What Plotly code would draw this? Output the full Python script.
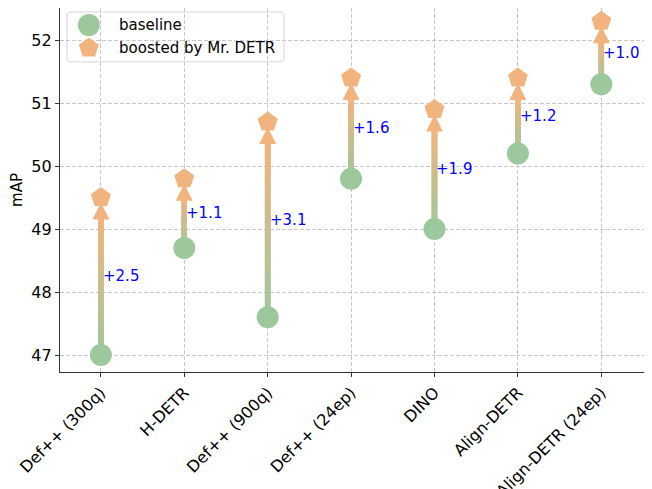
import numpy as np
import plotly.graph_objects as go

categories = ["Def++ (300q)", "H-DETR", "Def++ (900q)", "Def++ (24ep)", "DINO", "Align-DETR", "Align-DETR (24ep)"]
baseline = [47.0, 48.7, 47.6, 49.8, 49.0, 50.2, 51.3]
boosted = [49.5, 49.8, 50.7, 51.4, 50.9, 51.4, 52.3]
gains = ["+2.5", "+1.1", "+3.1", "+1.6", "+1.9", "+1.2", "+1.0"]

GREEN = (157, 200, 157)
ORANGE = (242, 180, 126)
FONT = "DejaVu Sans"
FS = 15
TFS = 16

def mix(t, alpha=0.68):
    c = [int(round(GREEN[k] + (ORANGE[k] - GREEN[k]) * t)) for k in range(3)]
    return f"rgba({c[0]},{c[1]},{c[2]},{alpha})"

fig = go.Figure()
xs = list(range(len(categories)))

# gradient shafts
for i, (b, a) in enumerate(zip(baseline, boosted)):
    top = a - 0.3
    n = max(int((top - b) / 0.015), 2)
    ys = np.linspace(b, top, n)
    cols = [mix(j / (n - 1)) for j in range(n)]
    fig.add_trace(go.Scatter(x=[i] * n, y=ys, mode="markers",
                             marker=dict(symbol="square", size=5.5, color=cols, line=dict(width=0)),
                             showlegend=False, hoverinfo="skip"))
    fig.add_annotation(x=i, y=(a + b) / 2, text=gains[i], showarrow=False, xanchor="left",
                       xshift=0, font=dict(color="blue", size=FS, family=FONT))

# arrow heads (tip hidden under the pentagons)
fig.add_trace(go.Scatter(x=xs, y=[a - 0.08 for a in boosted], mode="markers", showlegend=False,
                         hoverinfo="skip",
                         marker=dict(symbol="arrow-up", size=17, color=f"rgb{ORANGE}", line=dict(width=0))))

fig.add_trace(go.Scatter(x=xs, y=baseline, mode="markers", name="baseline", showlegend=False,
                         marker=dict(symbol="circle", size=22, color=f"rgb{GREEN}", line=dict(width=0))))
fig.add_trace(go.Scatter(x=xs, y=boosted, mode="markers", name="boosted by Mr. DETR", showlegend=False,
                         marker=dict(symbol="pentagon", size=21, color=f"rgb{ORANGE}", line=dict(width=0))))

# manual legend (overlay axis in plot-area fractions), rounded box
x0, x1, y0, y1 = 0.012, 0.381, 0.852, 0.989
rx, ry = 0.007, 0.011
path = (f"M {x0+rx},{y0} L {x1-rx},{y0} Q {x1},{y0} {x1},{y0+ry} L {x1},{y1-ry} Q {x1},{y1} {x1-rx},{y1} "
        f"L {x0+rx},{y1} Q {x0},{y1} {x0},{y1-ry} L {x0},{y0+ry} Q {x0},{y0} {x0+rx},{y0} Z")
fig.add_shape(type="path", path=path, xref="paper", yref="paper",
              line=dict(color="#d5d5d5", width=1), fillcolor="rgba(255,255,255,0.85)", layer="between")
fig.add_trace(go.Scatter(x=[0.049], y=[0.953], xaxis="x2", yaxis="y2", mode="markers",
                         showlegend=False, hoverinfo="skip",
                         marker=dict(symbol="circle", size=22, color=f"rgb{GREEN}", line=dict(width=0))))
fig.add_trace(go.Scatter(x=[0.049], y=[0.890], xaxis="x2", yaxis="y2", mode="markers",
                         showlegend=False, hoverinfo="skip",
                         marker=dict(symbol="pentagon", size=21, color=f"rgb{ORANGE}", line=dict(width=0))))
for yy, label in [(0.953, "baseline"), (0.890, "boosted by Mr. DETR")]:
    fig.add_annotation(x=0.097, y=yy, xref="x2", yref="y2", text=label, showarrow=False,
                       xanchor="left", yanchor="middle", font=dict(size=FS, family=FONT, color="black"))

axis_common = dict(showline=True, linecolor="#333", linewidth=1.2, mirror=True,
                   ticks="outside", ticklen=4, tickcolor="#333", automargin=False,
                   showgrid=True, gridcolor="#c8c8c8", griddash="4px,2px", gridwidth=1,
                   zeroline=False, tickfont=dict(size=TFS, family=FONT, color="black"))

fig.update_xaxes(tickmode="array", tickvals=xs, ticktext=categories, tickangle=-45,
                 range=[-0.49, 6.56], **axis_common)
fig.update_yaxes(range=[46.73, 52.51], tickvals=[47, 48, 49, 50, 51, 52],
                 title=dict(text="mAP", font=dict(size=FS, family=FONT, color="black"), standoff=7),
                 **axis_common)

fig.update_layout(width=644, height=481, margin=dict(l=52, r=4, t=0, b=117),
                  plot_bgcolor="white", paper_bgcolor="white",
                  font=dict(family=FONT, size=FS, color="black"), showlegend=False,
                  xaxis2=dict(overlaying="x", range=[0, 1], visible=False, fixedrange=True),
                  yaxis2=dict(overlaying="y", range=[0, 1], visible=False, fixedrange=True))

fig.write_html("out.html")
